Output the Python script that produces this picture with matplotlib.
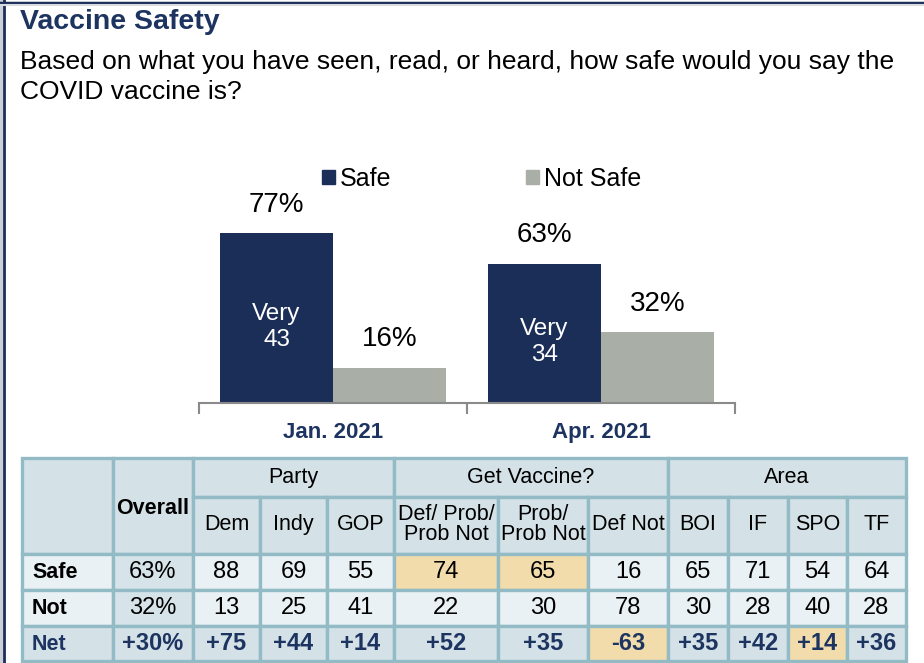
import matplotlib
matplotlib.use("Agg")
import matplotlib.pyplot as plt
from matplotlib.patches import Rectangle, Patch

plt.rcParams['font.family'] = ['Liberation Sans', 'DejaVu Sans']

# ---- data ----
groups = ['Jan. 2021', 'Apr. 2021']
safe = [77, 63]
not_safe = [16, 32]
very = [43, 34]

col_groups = ['Party', 'Get Vaccine?', 'Area']
group_spans = [3, 3, 4]
sub_cols = ['Dem', 'Indy', 'GOP', 'Def/ Prob/\nProb Not', 'Prob/\nProb Not',
            'Def Not', 'BOI', 'IF', 'SPO', 'TF']
row_labels = ['Safe', 'Not', 'Net']
overall = ['63%', '32%', '+30%']
safe_row = ['88', '69', '55', '74', '65', '16', '65', '71', '54', '64']
not_row = ['13', '25', '41', '22', '30', '78', '30', '28', '40', '28']
net_row = ['+75', '+44', '+14', '+52', '+35', '-63', '+35', '+42', '+14', '+36']
highlight = [(0, 3), (0, 4), (2, 5), (2, 8)]

NAVY = '#1b2e58'
GRAY = '#a9aea6'
TXT_NAVY = '#1d3461'
HEAD = '#d4e2e8'
BODY = '#e9f1f4'
OVER = '#d6e4ea'
HILITE = '#f2dcab'
LINE = '#93bbc5'

W, H = 924, 663
fig = plt.figure(figsize=(W / 100, H / 100), dpi=100)

# full-figure canvas in pixel coordinates (frame, titles, table)
bg = fig.add_axes([0, 0, 1, 1])
bg.set_xlim(0, W)
bg.set_ylim(H, 0)
bg.axis('off')

bg.plot([1, 1], [0, H], color='#c8ccd4', lw=2)
bg.plot([4, 4], [0, H], color=NAVY, lw=2)
bg.plot([0, W], [2.5, 2.5], color=NAVY, lw=2.5)
bg.plot([0, W], [5, 5], color='#d8dce2', lw=1.5)

bg.text(20, 22, 'Vaccine Safety', fontsize=20.5, fontweight='bold',
        color=TXT_NAVY, va='center', ha='left')
bg.text(20, 77, 'Based on what you have seen, read, or heard, how safe would you say the\nCOVID vaccine is?',
        fontsize=19, color='black', va='center', ha='left', linespacing=1.3)

# ---- bar chart ----
px_per_unit = 2.208
base_y = 403
left_px, right_px = 199, 735
top_px = base_y - 100 * px_per_unit
ax = fig.add_axes([left_px / W, 1 - base_y / H, (right_px - left_px) / W, (base_y - top_px) / H])
ax.set_xlim(-0.5, 1.5)
ax.set_ylim(0, 100)

bw = 113 / 268
xs = list(range(len(groups)))
ax.bar([x - bw / 2 for x in xs], safe, width=bw, color=NAVY, label='Safe')
ax.bar([x + bw / 2 for x in xs], not_safe, width=bw, color=GRAY, label='Not Safe')

for x, s, n, v in zip(xs, safe, not_safe, very):
    ax.text(x - bw / 2, s + 7, f'{s}%', ha='center', va='bottom', fontsize=20, clip_on=False)
    ax.text(x + bw / 2, n + 7, f'{n}%', ha='center', va='bottom', fontsize=20, clip_on=False)
    ax.text(x - bw / 2, s / 2 - 4, f'Very\n{v}', ha='center', va='center', fontsize=17.5,
            color='white', linespacing=1.25)

for sp in ['top', 'right', 'left']:
    ax.spines[sp].set_visible(False)
ax.spines['bottom'].set_color('#8a8a8a')
ax.spines['bottom'].set_linewidth(1.5)
ax.set_yticks([])
ax.set_xticks([-0.5, 0.5, 1.5])
ax.set_xticklabels([])
ax.tick_params(axis='x', which='major', length=8, width=1.5, color='#8a8a8a')
ax.set_xticks(xs, minor=True)
ax.set_xticklabels(groups, minor=True, fontsize=16, fontweight='bold', color=TXT_NAVY)
ax.tick_params(axis='x', which='minor', length=0, pad=14)

ax.legend(handles=[Patch(color=NAVY, label='Safe'), Patch(color=GRAY, label='Not Safe')],
          ncol=2, frameon=False, fontsize=18, loc='upper left',
          bbox_to_anchor=(322 / W, 1 - 167 / H), bbox_transform=fig.transFigure,
          handlelength=0.5, handleheight=0.5, handletextpad=0.2, columnspacing=5.4,
          borderpad=0, borderaxespad=0)

# ---- table ----
col_x = [22, 113, 193, 260, 327, 394, 498, 588, 668, 728, 788, 847, 906]
row_y = [458, 497, 554, 590, 626, 661]
lw = 2.4


def cell(x0, x1, y0, y1, fill):
    bg.add_patch(Rectangle((x0, y0), x1 - x0, y1 - y0, facecolor=fill,
                           edgecolor=LINE, lw=lw, zorder=2))


# header
cell(col_x[0], col_x[1], row_y[0], row_y[2], HEAD)
cell(col_x[1], col_x[2], row_y[0], row_y[2], HEAD)
bg.text((col_x[1] + col_x[2]) / 2, 508, 'Overall', ha='center', va='center',
        fontsize=15.5, fontweight='bold', zorder=3)
c = 2
for name, span in zip(col_groups, group_spans):
    cell(col_x[c], col_x[c + span], row_y[0], row_y[1], HEAD)
    bg.text((col_x[c] + col_x[c + span]) / 2, (row_y[0] + row_y[1]) / 2, name,
            ha='center', va='center', fontsize=15.5, zorder=3)
    c += span
for i, name in enumerate(sub_cols):
    x0, x1 = col_x[i + 2], col_x[i + 3]
    cell(x0, x1, row_y[1], row_y[2], HEAD)
    bg.text((x0 + x1) / 2, (row_y[1] + row_y[2]) / 2 - 1, name, ha='center', va='center',
            fontsize=15.5, linespacing=0.92, zorder=3)

# body
rows = [safe_row, not_row, net_row]
for r, (lab, vals) in enumerate(zip(row_labels, rows)):
    y0, y1 = row_y[r + 2], row_y[r + 3]
    ym = (y0 + y1) / 2
    is_net = lab == 'Net'
    base = HEAD if is_net else BODY
    tcolor = TXT_NAVY if is_net else 'black'
    weight = 'bold' if is_net else 'normal'
    cell(col_x[0], col_x[1], y0, y1, base)
    bg.text(col_x[0] + 10, ym + 1, lab, ha='left', va='center', fontsize=15.5,
            fontweight='bold', color=tcolor, zorder=3)
    cell(col_x[1], col_x[2], y0, y1, HEAD if is_net else OVER)
    bg.text((col_x[1] + col_x[2]) / 2, ym, overall[r], ha='center', va='center',
            fontsize=17, fontweight=weight, color=tcolor, zorder=3)
    for i, v in enumerate(vals):
        x0, x1 = col_x[i + 2], col_x[i + 3]
        fill = HILITE if (r, i) in highlight else base
        cell(x0, x1, y0, y1, fill)
        bg.text((x0 + x1) / 2, ym, v, ha='center', va='center', fontsize=17,
                fontweight=weight, color=tcolor, zorder=3)

fig.savefig('out.png', dpi=100)
